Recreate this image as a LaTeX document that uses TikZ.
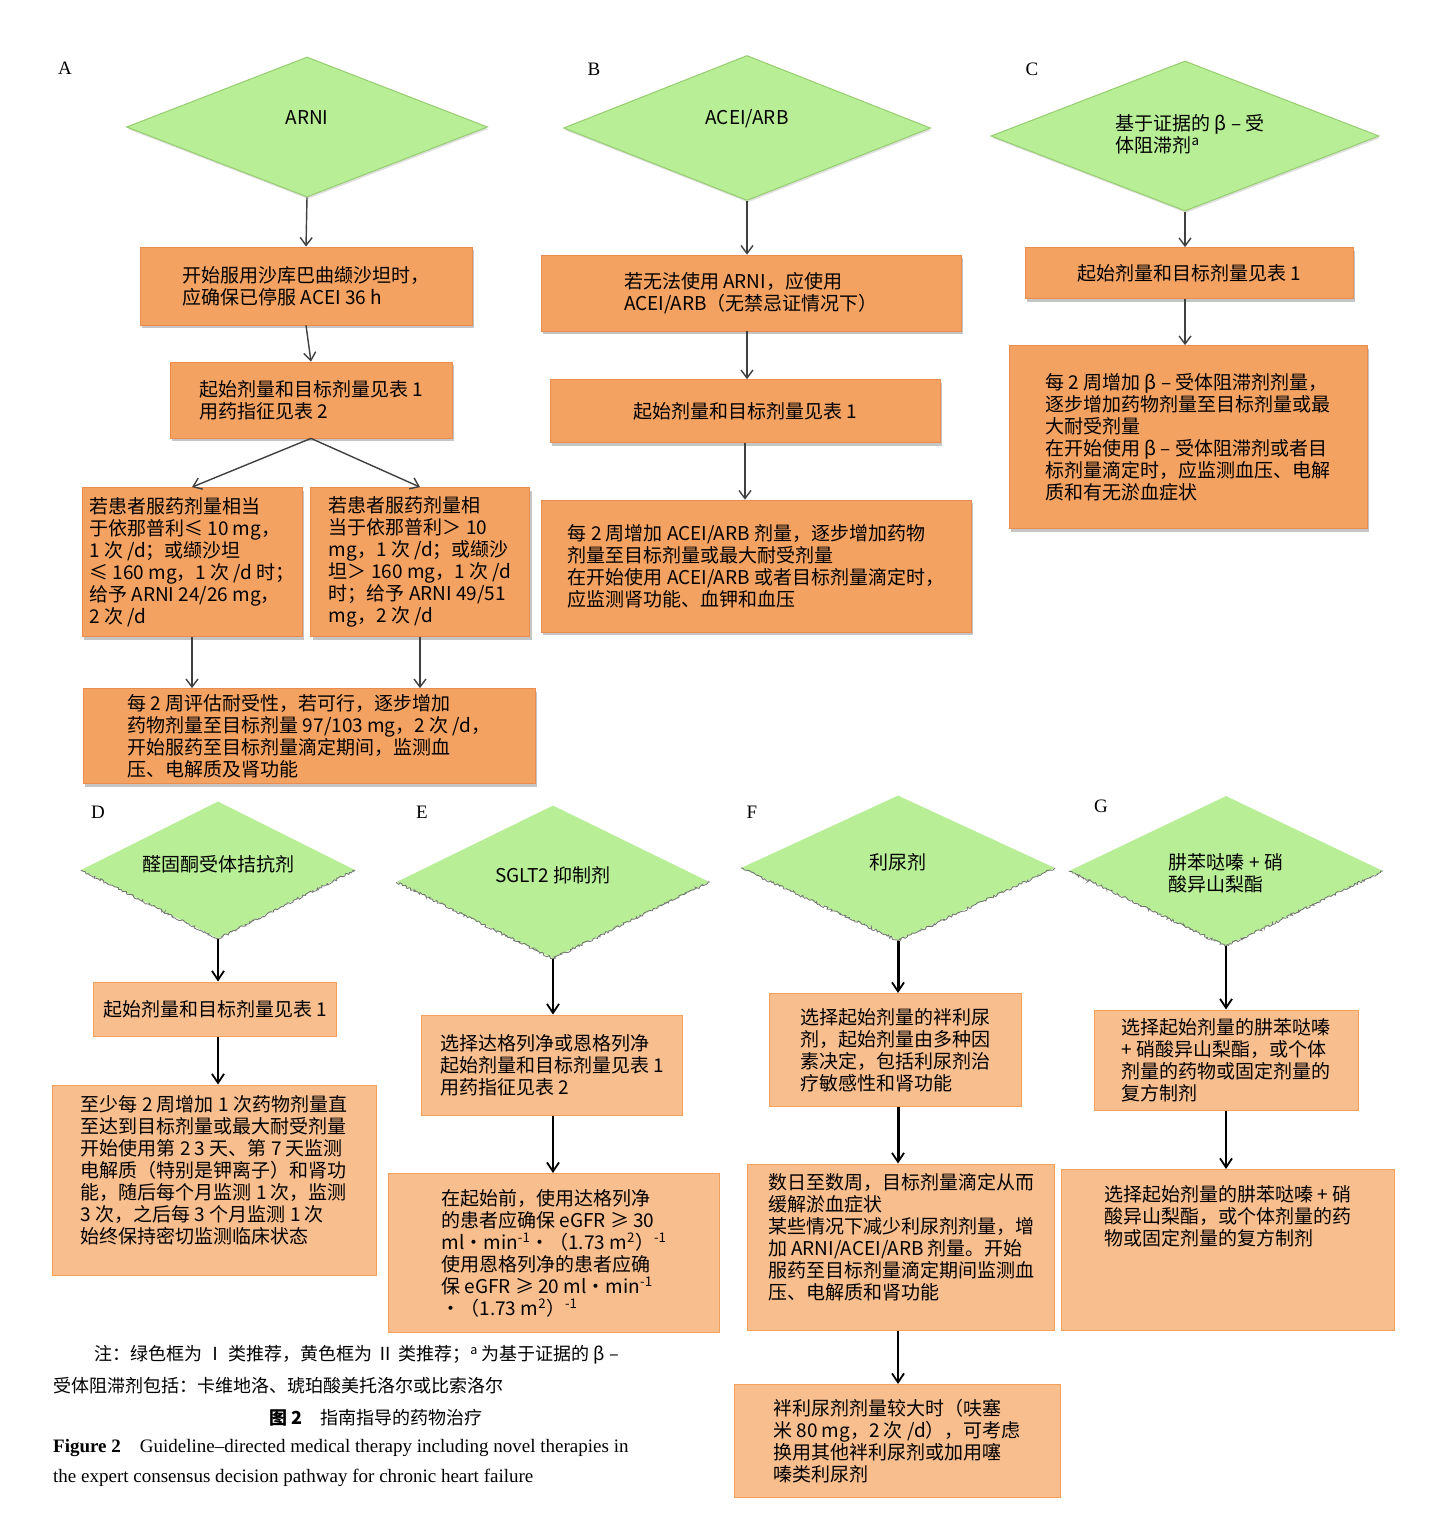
\documentclass[tikz,border=0pt]{standalone}
\usepackage{fontspec}
\setmainfont{Noto Sans CJK SC}
\newfontfamily\lat{Liberation Serif}
\usetikzlibrary{shapes.geometric,arrows.meta,shadows,decorations.pathmorphing}
\definecolor{dgreen}{RGB}{184,238,150}
\definecolor{dgreenb}{RGB}{150,205,110}
\definecolor{obox}{RGB}{244,162,98}
\definecolor{oboxb}{RGB}{232,140,80}
\definecolor{lbox}{RGB}{249,190,142}
\definecolor{lboxb}{RGB}{244,160,90}
\tikzset{
  x=1pt,y=-1pt,
  txt/.style={font=\fontsize{19}{22}\selectfont, align=left, inner sep=2pt},
  dia/.style={diamond, fill=dgreen, draw=dgreenb, line width=1pt, inner sep=0pt, drop shadow={opacity=0.25,shadow xshift=1pt,shadow yshift=-2pt}},
  diab/.style={diamond, fill=dgreen, draw=none, inner sep=0pt},
  ob/.style={txt, rectangle, fill=obox, draw=oboxb, line width=0.8pt, drop shadow={opacity=0.45,shadow xshift=2pt,shadow yshift=-3pt}},
  lb/.style={txt, rectangle, fill=lbox, draw=lboxb, line width=1pt},
  arr/.style={draw=black!75, line width=1.4pt, -{Straight Barb[length=8pt,width=12pt,line width=1.4pt]}},
  arrb/.style={draw=black, line width=2.2pt, -{Straight Barb[length=9pt,width=12pt,line width=1.8pt]}},
  lab/.style={font=\lat\fontsize{19}{22}\selectfont, inner sep=0pt},
  jag/.style={draw=black!55, line width=0.8pt, decorate, decoration={random steps,segment length=1.5pt,amplitude=1.3pt}}
}
\begin{document}
\begin{tikzpicture}
\useasboundingbox[fill=white] (0,0) rectangle (1430,1536);
% ---------- A ----------
\node[lab] (la) at (65,68) {A};
\node[dia, minimum width=361, minimum height=140] (ad) at (307,127) {};
\node[txt] (adt) at (307,118) {ARNI};
\node[ob, minimum width=332, minimum height=78] (a1) at (306,286) {开始服用沙库巴曲缬沙坦时，\\应确保已停服 ACEI 36 h};
\node[ob, minimum width=282, minimum height=76] (a2) at (311,400) {起始剂量和目标剂量见表 1\\用药指征见表 2};
\node[ob, minimum width=220, minimum height=149] (a3) at (192,562) {若患者服药剂量相当\\于依那普利≤ 10 mg，\\1 次 /d；或缬沙坦\\≤ 160 mg，1 次 /d 时；\\给予 ARNI 24/26 mg，\\2 次 /d};
\node[ob, minimum width=219, minimum height=149] (a4) at (420,562) {若患者服药剂量相\\当于依那普利＞ 10\\mg，1 次 /d；或缬沙\\坦＞ 160 mg，1 次 /d\\时；给予 ARNI 49/51\\mg，2 次 /d};
\node[ob, minimum width=452, minimum height=95] (a5) at (309,736) {每 2 周评估耐受性，若可行，逐步增加\\药物剂量至目标剂量 97/103 mg，2 次 /d，\\开始服药至目标剂量滴定期间，监测血\\压、电解质及肾功能};
\draw[arr] (ad.south) -- (a1.north);
\draw[arr] (a1.south) -- (a2.north);
\draw[arr] (a2.south) -- (a3.north);
\draw[arr] (a2.south) -- (a4.north);
\draw[arr] (a3.south) -- (a3.south |- a5.north);
\draw[arr] (a4.south) -- (a4.south |- a5.north);
% ---------- B ----------
\node[lab] (lb) at (594,69) {B};
\node[dia, minimum width=367, minimum height=145] (bd) at (747,128) {};
\node[txt] (bdt) at (747,119) {ACEI/ARB};
\node[ob, minimum width=420, minimum height=76] (b1) at (751,293) {若无法使用 ARNI，应使用\\ACEI/ARB（无禁忌证情况下）};
\node[ob, minimum width=390, minimum height=63] (b2) at (745,411) {起始剂量和目标剂量见表 1};
\node[ob, minimum width=430, minimum height=132] (b3) at (756,566) {每 2 周增加 ACEI/ARB 剂量，逐步增加药物\\剂量至目标剂量或最大耐受剂量\\在开始使用 ACEI/ARB 或者目标剂量滴定时，\\应监测肾功能、血钾和血压};
\draw[arr] (bd.south) -- (bd.south |- b1.north);
\draw[arr] (bd.south |- b1.south) -- (bd.south |- b2.north);
\draw[arr] (b2.south) -- (b2.south |- b3.north);
% ---------- C ----------
\node[lab] (lc) at (1032,69) {C};
\node[dia, minimum width=388, minimum height=150] (cd) at (1185,136) {};
\node[txt] (cdt) at (1190,134) {基于证据的 β – 受\\体阻滞剂\textsuperscript{a}};
\node[ob, minimum width=328, minimum height=51] (c1) at (1189,273) {起始剂量和目标剂量见表 1};
\node[ob, minimum width=358, minimum height=183] (c2) at (1188,437) {每 2 周增加 β – 受体阻滞剂剂量，\\逐步增加药物剂量至目标剂量或最\\大耐受剂量\\在开始使用 β – 受体阻滞剂或者目\\标剂量滴定时，应监测血压、电解\\质和有无淤血症状};
\draw[arr] (cd.south) -- (cd.south |- c1.north);
\draw[arr] (cd.south |- c1.south) -- (cd.south |- c2.north);
% ---------- D ----------
\node[lab] (ld) at (98,812) {D};
\node[diab, minimum width=274, minimum height=137] (dd) at (218,870) {};
\draw[jag] (dd.west) -- (dd.south) -- (dd.east);
\node[txt] (ddt) at (218,864) {醛固酮受体拮抗剂};
\node[lb, minimum width=243, minimum height=54] (d1) at (215,1009) {起始剂量和目标剂量见表 1};
\node[lb, minimum width=324, minimum height=190] (d2) at (214,1180) {至少每 2 周增加 1 次药物剂量直\\至达到目标剂量或最大耐受剂量\\开始使用第 2~3 天、第 7 天监测\\电解质（特别是钾离子）和肾功\\能，随后每个月监测 1 次，监测\\3 次，之后每 3 个月监测 1 次\\始终保持密切监测临床状态\\\rule{0pt}{16pt}};
\draw[arrb] (dd.south) -- (dd.south |- d1.north);
\draw[arrb] (dd.south |- d1.south) -- (dd.south |- d2.north);
% ---------- E ----------
\node[lab] (le) at (422,812) {E};
\node[diab, minimum width=313, minimum height=153] (ed) at (553,882) {};
\draw[jag] (ed.west) -- (ed.south) -- (ed.east);
\node[txt] (edt) at (553,875) {SGLT2 抑制剂};
\node[lb, minimum width=261, minimum height=100] (e1) at (552,1065) {选择达格列净或恩格列净\\起始剂量和目标剂量见表 1\\用药指征见表 2};
\node[lb, minimum width=331, minimum height=159] (e2) at (554,1253) {在起始前，使用达格列净\\的患者应确保 eGFR ≥ 30\\ml•min\textsuperscript{-1}•（1.73 m\textsuperscript{2}）\textsuperscript{-1}\\使用恩格列净的患者应确\\保 eGFR ≥ 20 ml•min\textsuperscript{-1}\\•（1.73 m\textsuperscript{2}）\textsuperscript{-1}};
\draw[arrb] (ed.south) -- (ed.south |- e1.north);
\draw[arrb] (ed.south |- e1.south) -- (ed.south |- e2.north);
% ---------- F ----------
\node[lab] (lf) at (752,812) {F};
\node[diab, minimum width=314, minimum height=145] (fd) at (898,868) {};
\draw[jag] (fd.west) -- (fd.south) -- (fd.east);
\node[txt] (fdt) at (898,862) {利尿剂};
\node[lb, minimum width=252, minimum height=113] (f1) at (895,1050) {选择起始剂量的袢利尿\\剂，起始剂量由多种因\\素决定，包括利尿剂治\\疗敏感性和肾功能};
\node[lb, minimum width=307, minimum height=166] (f2) at (901,1247) {数日至数周，目标剂量滴定从而\\缓解淤血症状\\某些情况下减少利尿剂剂量，增\\加 ARNI/ACEI/ARB 剂量。开始\\服药至目标剂量滴定期间监测血\\压、电解质和肾功能\\\rule{0pt}{12pt}};
\node[lb, minimum width=326, minimum height=113] (f3) at (897,1441) {袢利尿剂剂量较大时（呋塞\\米 80 mg，2 次 /d），可考虑\\换用其他袢利尿剂或加用噻\\嗪类利尿剂};
\draw[arrb, line width=3pt] (fd.south) -- (fd.south |- f1.north);
\draw[arrb, line width=3pt] (fd.south |- f1.south) -- (fd.south |- f2.north);
\draw[arrb] (fd.south |- f2.south) -- (fd.south |- f3.north);
% ---------- G ----------
\node[lab] (lg) at (1101,806) {G};
\node[diab, minimum width=314, minimum height=150] (gd) at (1226,871) {};
\draw[jag] (gd.west) -- (gd.south) -- (gd.east);
\node[txt] (gdt) at (1226,873) {肼苯哒嗪 + 硝\\酸异山梨酯};
\node[lb, minimum width=264, minimum height=100] (g1) at (1226,1060) {选择起始剂量的肼苯哒嗪\\+ 硝酸异山梨酯，或个体\\剂量的药物或固定剂量的\\复方制剂};
\node[lb, minimum width=333, minimum height=161] (g2) at (1228,1250) {选择起始剂量的肼苯哒嗪 + 硝\\酸异山梨酯，或个体剂量的药\\物或固定剂量的复方制剂\\\rule{0pt}{66pt}};
\draw[arrb] (gd.south) -- (gd.south |- g1.north);
\draw[arrb] (gd.south |- g1.south) -- (gd.south |- g2.north);
% ---------- caption ----------
\node[anchor=west, inner sep=0pt, font=\fontsize{18}{22}\selectfont] (cap1) at (94,1355) {注：绿色框为 Ⅰ 类推荐，黄色框为 Ⅱ 类推荐；\textsuperscript{a} 为基于证据的 β –};
\node[anchor=west, inner sep=0pt, font=\fontsize{18}{22}\selectfont] (cap2) at (53,1386) {受体阻滞剂包括：卡维地洛、琥珀酸美托洛尔或比索洛尔};
\node[inner sep=0pt, font=\fontsize{18}{22}\selectfont] (cap3) at (376,1418) {\textbf{图 2}\quad 指南指导的药物治疗};
\node[anchor=west, inner sep=0pt, font=\lat\fontsize{19}{22}\selectfont] (cap4) at (53,1448) {\textbf{Figure 2}\quad Guideline–directed medical therapy including novel therapies in};
\node[anchor=west, inner sep=0pt, font=\lat\fontsize{19}{22}\selectfont] (cap5) at (53,1478) {the expert consensus decision pathway for chronic heart failure};
\end{tikzpicture}
\end{document}
